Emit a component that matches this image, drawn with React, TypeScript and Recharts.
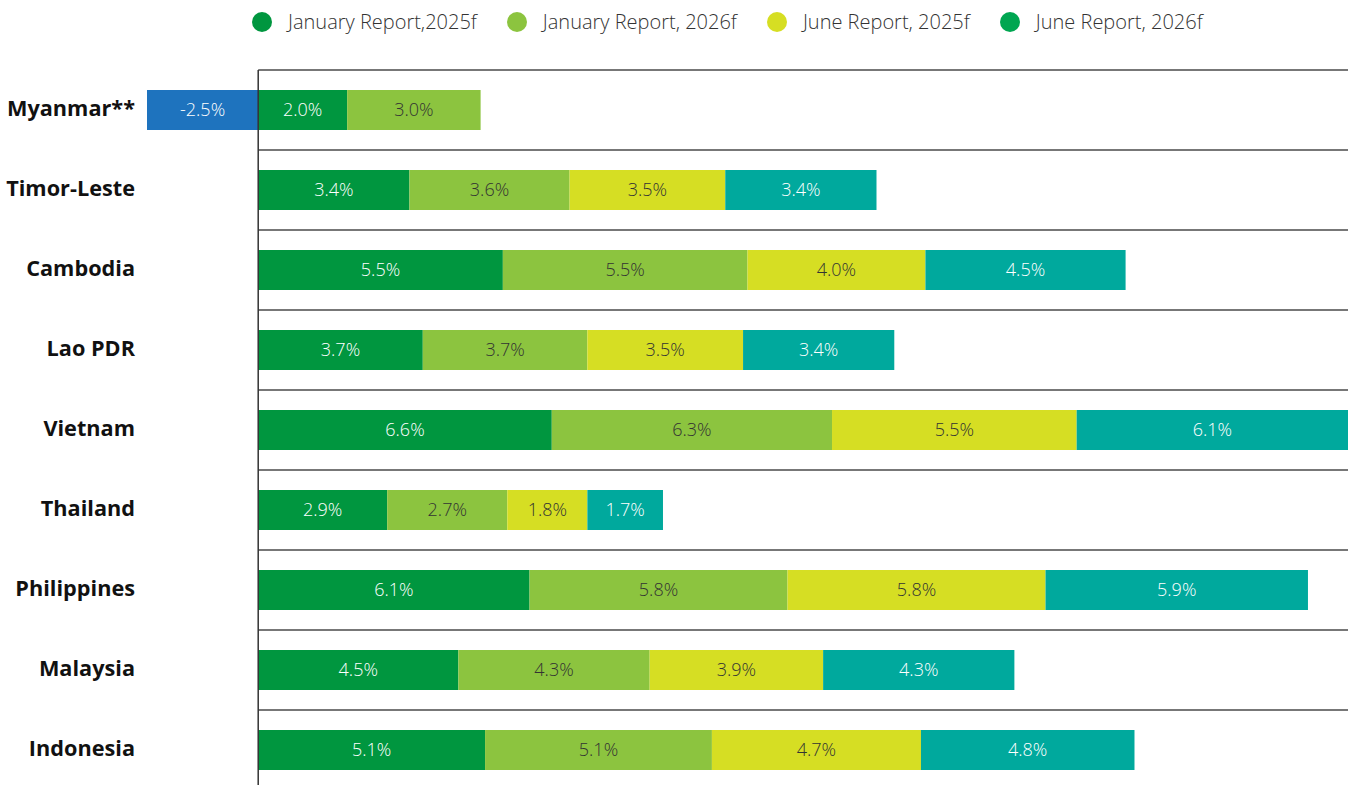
import { BarChart, Bar, XAxis, YAxis, Cell, LabelList, ReferenceLine } from 'recharts'

const COUNTRIES = [
  'Myanmar**',
  'Timor-Leste',
  'Cambodia',
  'Lao PDR',
  'Vietnam',
  'Thailand',
  'Philippines',
  'Malaysia',
  'Indonesia',
]
const JAN_2025 = [2.0, 3.4, 5.5, 3.7, 6.6, 2.9, 6.1, 4.5, 5.1]
const JAN_2026 = [3.0, 3.6, 5.5, 3.7, 6.3, 2.7, 5.8, 4.3, 5.1]
const JUN_2025 = [-2.5, 3.5, 4.0, 3.5, 5.5, 1.8, 5.8, 3.9, 4.7]
const JUN_2026 = [null, 3.4, 4.5, 3.4, 6.1, 1.7, 5.9, 4.3, 4.8]

const X_DOMAIN: [number, number] = [-2.5, 24.5]

const SERIES = [
  { key: 'jan25', name: 'January Report,2025f', values: JAN_2025, color: '#00963f', dot: '#00963f', text: '#ffffff' },
  { key: 'jan26', name: 'January Report, 2026f', values: JAN_2026, color: '#8cc43f', dot: '#8cc43f', text: '#333333' },
  { key: 'jun25', name: 'June Report, 2025f', values: JUN_2025, color: '#d6de23', dot: '#d6de23', text: '#333333' },
  { key: 'jun26', name: 'June Report, 2026f', values: JUN_2026, color: '#00a99d', dot: '#00a651', text: '#ffffff' },
]
const NEGATIVE_COLOR = '#1e73be'

const FONT = '"Open Sans", "Noto Sans", sans-serif'

const data = COUNTRIES.map((country, i) => {
  const row: Record<string, string | number | null> = { country }
  for (const s of SERIES) row[s.key] = s.values[i]
  return row
})

// label renderer: white on negative (blue) cells, series text colour otherwise
const makeLabel = (color: string) => (props: any) => {
  const { x, y, width, height, value } = props
  if (value == null) return null
  return (
    <text
      x={x + width / 2}
      y={y + height / 2}
      dy="0.35em"
      textAnchor="middle"
      fill={value < 0 ? '#ffffff' : color}
      style={{ fontFamily: FONT, fontSize: 18, fontWeight: 300 }}
    >
      {`${Number(value).toFixed(1)}%`}
    </text>
  )
}

function ChartLegend() {
  return (
    <div
      style={{
        position: 'absolute',
        top: 9,
        left: 252,
        display: 'flex',
        alignItems: 'center',
        gap: 30,
        fontFamily: FONT,
        fontWeight: 300,
        fontSize: 20,
        lineHeight: '26px',
        color: '#333',
      }}
    >
      {SERIES.map(s => (
        <div key={s.key} style={{ display: 'flex', alignItems: 'center' }}>
          <span
            style={{
              width: 20,
              height: 20,
              borderRadius: '50%',
              background: s.dot,
              display: 'inline-block',
              marginRight: 16,
            }}
          />
          <span>{s.name}</span>
        </div>
      ))}
    </div>
  )
}

export default function App() {
  return (
    <div
      style={{
        position: 'absolute',
        top: 0,
        left: 0,
        width: 1367,
        height: 785,
        overflow: 'hidden',
        background: '#fff',
      }}
    >
      <ChartLegend />
      <BarChart
        width={1367}
        height={800}
        data={data}
        layout="vertical"
        stackOffset="sign"
        margin={{ top: 70, right: 19, bottom: 10, left: 0 }}
        barSize={40}
      >
        <XAxis type="number" domain={X_DOMAIN} hide allowDataOverflow />
        <YAxis
          type="category"
          dataKey="country"
          width={147}
          axisLine={false}
          tickLine={false}
          tickSize={0}
          tickMargin={12}
          tick={{ fill: '#111', fontSize: 21.7, fontWeight: 700, fontFamily: FONT, dy: -2 }}
        />
        {/* separators between country rows */}
        {COUNTRIES.map(c => (
          <ReferenceLine
            key={c}
            segment={[{ x: 0, y: c }, { x: X_DOMAIN[1], y: c }]}
            position="start"
            stroke="#4a4a4a"
            strokeWidth={1.5}
          />
        ))}
        <ReferenceLine
          segment={[
            { x: 0, y: COUNTRIES[COUNTRIES.length - 1] },
            { x: X_DOMAIN[1], y: COUNTRIES[COUNTRIES.length - 1] },
          ]}
          position="end"
          stroke="#4a4a4a"
          strokeWidth={1.5}
        />
        {SERIES.map(s => (
          <Bar key={s.key} dataKey={s.key} name={s.name} stackId="a" fill={s.color} isAnimationActive={false}>
            {data.map((row, i) => (
              <Cell key={i} fill={(s.values[i] ?? 0) < 0 ? NEGATIVE_COLOR : s.color} />
            ))}
            <LabelList dataKey={s.key} content={makeLabel(s.text)} />
          </Bar>
        ))}
        <ReferenceLine x={0} stroke="#333" strokeWidth={1.5} />
      </BarChart>
    </div>
  )
}
